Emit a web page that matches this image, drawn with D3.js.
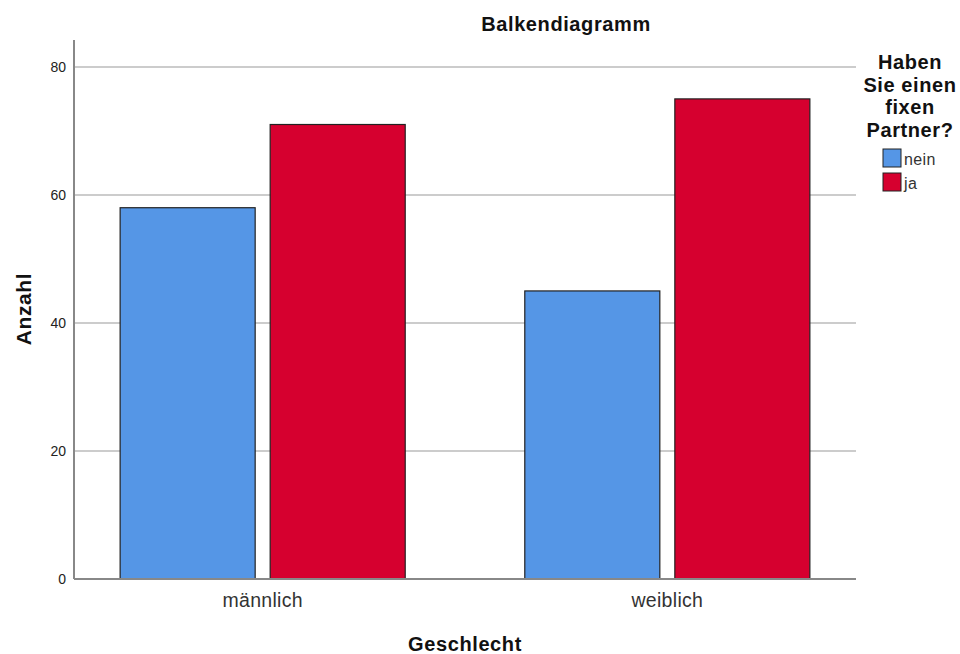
<!DOCTYPE html>
<html><head><meta charset="utf-8">
<script src="https://cdn.jsdelivr.net/npm/d3@7"></script>
<style>body{margin:0;background:#fff}svg{display:block;font-family:Arial,"Liberation Sans",sans-serif}</style>
</head><body><svg id="c" width="960" height="654"></svg>
<script>
const categories = ["männlich", "weiblich"];
const seriesNames = ["nein", "ja"];
const neinValues = [58, 45];
const jaValues = [71, 75];
const yTicks = [0, 20, 40, 60, 80];
const colors = ["#5596E6", "#D6002F"];

const svg = d3.select("#c");
const pLeft = 74, pRight = 856, pTop = 40, pBottom = 579;
const y = d3.scaleLinear().domain([0, 84.2]).range([pBottom, pTop]);
const x0 = d3.scaleBand().domain(categories).range([pLeft, pRight]).paddingInner(0.2955).paddingOuter(0.114);
const x1 = d3.scaleBand().domain(seriesNames).range([0, x0.bandwidth()]).paddingInner(0.1);

// gridlines
svg.append("g").selectAll("line").data(yTicks.filter(d => d > 0)).join("line")
  .attr("x1", pLeft).attr("x2", pRight).attr("y1", d => y(d)).attr("y2", d => y(d))
  .attr("stroke", "#cccccc").attr("stroke-width", 2);

// y axis
const ya = svg.append("g").attr("transform", `translate(${pLeft},0)`)
  .call(d3.axisLeft(y).tickValues(yTicks).tickSize(0).tickPadding(8));
ya.select(".domain").remove();
ya.selectAll("text").attr("font-size", 14).attr("fill", "#222").attr("font-family", "Arial, 'Liberation Sans', sans-serif");
svg.append("line").attr("x1", pLeft).attr("x2", pLeft).attr("y1", pTop).attr("y2", pBottom)
  .attr("stroke", "#888").attr("stroke-width", 2);

// bars
const data = categories.map((c, i) => ({cat: c, vals: [
  {s: "nein", v: neinValues[i], col: colors[0]},
  {s: "ja", v: jaValues[i], col: colors[1]}]}));
svg.append("g").selectAll("g").data(data).join("g")
  .attr("transform", d => `translate(${x0(d.cat)},0)`)
  .selectAll("rect").data(d => d.vals).join("rect")
  .attr("x", d => x1(d.s)).attr("width", x1.bandwidth())
  .attr("y", d => y(d.v)).attr("height", d => y(0) - y(d.v))
  .attr("fill", d => d.col).attr("stroke", "#222").attr("stroke-width", 1.2);

// x axis
const xa = svg.append("g").attr("transform", `translate(0,${pBottom})`)
  .call(d3.axisBottom(x0).tickSize(0).tickPadding(14));
xa.select(".domain").remove();
xa.selectAll("text").attr("font-size", 19.5).attr("letter-spacing", 0.3).attr("fill", "#333").attr("font-family", "Arial, 'Liberation Sans', sans-serif");
svg.append("line").attr("x1", pLeft).attr("x2", pRight).attr("y1", pBottom).attr("y2", pBottom)
  .attr("stroke", "#888").attr("stroke-width", 2);

// titles
svg.append("text").attr("x", 566).attr("y", 31).attr("text-anchor", "middle")
  .attr("font-size", 20).attr("letter-spacing", 0.6).attr("font-weight", "bold").attr("fill", "#111").text("Balkendiagramm");
svg.append("text").attr("x", 465).attr("y", 651).attr("text-anchor", "middle")
  .attr("font-size", 20).attr("letter-spacing", 0.6).attr("font-weight", "bold").attr("fill", "#111").text("Geschlecht");
svg.append("text").attr("transform", "translate(31,309) rotate(-90)").attr("text-anchor", "middle")
  .attr("font-size", 21).attr("letter-spacing", 0.6).attr("font-weight", "bold").attr("fill", "#111").text("Anzahl");

// legend
const legTitle = ["Haben", "Sie einen", "fixen", "Partner?"];
svg.append("g").selectAll("text").data(legTitle).join("text")
  .attr("x", 910).attr("y", (d, i) => 69 + i * 22.7).attr("text-anchor", "middle")
  .attr("font-size", 20).attr("letter-spacing", 0.6).attr("font-weight", "bold").attr("fill", "#111").text(d => d);
const lg = svg.append("g").selectAll("g").data(seriesNames).join("g")
  .attr("transform", (d, i) => `translate(883,${149 + i * 24})`);
lg.append("rect").attr("width", 18).attr("height", 18)
  .attr("fill", (d, i) => colors[i]).attr("stroke", "#222").attr("stroke-width", 1);
lg.append("text").attr("x", 21).attr("y", 16).attr("font-size", 16).attr("letter-spacing", 0.4).attr("fill", "#333").text(d => d);
</script></body></html>
